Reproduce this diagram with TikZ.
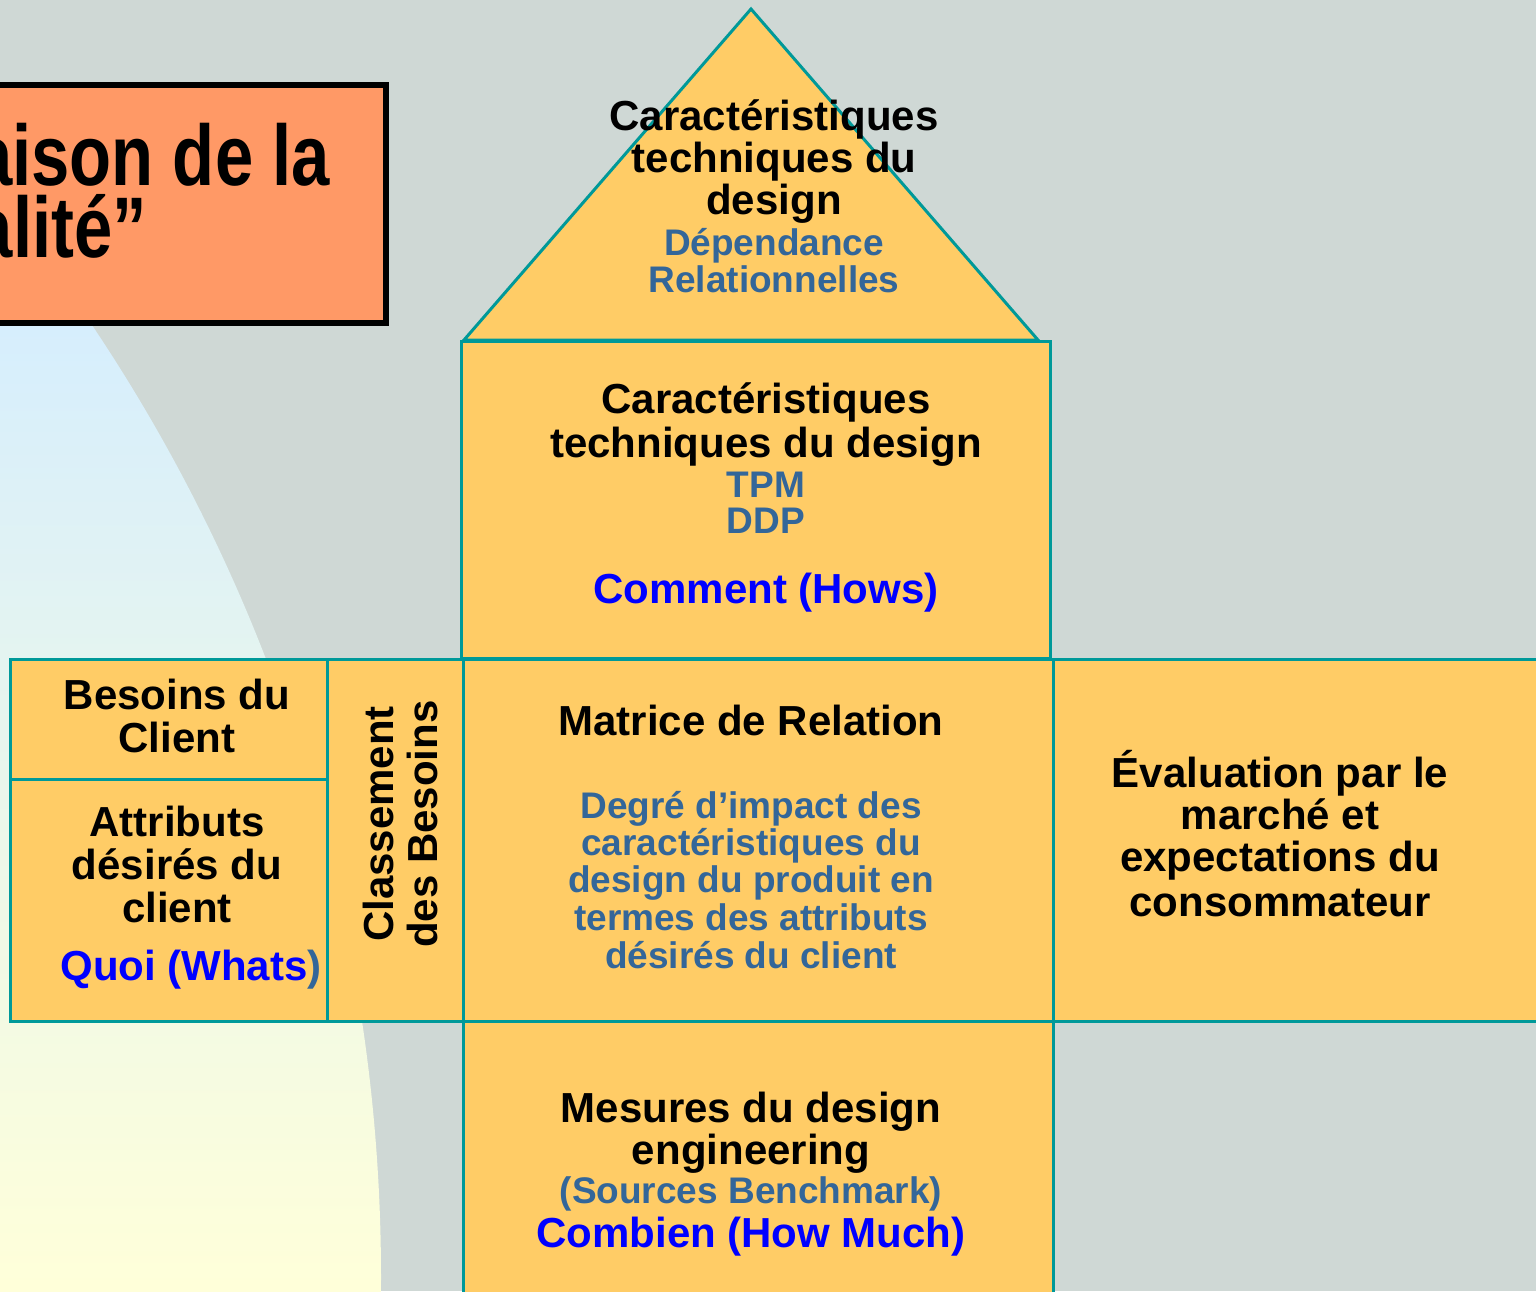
\documentclass[tikz,border=0pt]{standalone}
\usepackage{fontspec}
\setmainfont{Liberation Sans}
\usepackage{graphicx}
\definecolor{bgc}{HTML}{CFD8D5}
\definecolor{boxc}{HTML}{FFCC66}
\definecolor{tealc}{HTML}{009999}
\definecolor{salmonc}{HTML}{FF9966}
\definecolor{steelc}{HTML}{336699}
\definecolor{purec}{HTML}{0000FF}
\definecolor{skyc}{HTML}{D6EEFD}
\definecolor{creamc}{HTML}{FFFFD9}
\tikzset{
  cell/.style={fill=boxc, draw=tealc, line width=3pt},
  blk/.style={font=\fontsize{42}{44}\selectfont\bfseries, text=black, anchor=base, inner sep=0pt},
  sub/.style={font=\fontsize{37}{38}\selectfont\bfseries, text=steelc, anchor=base, inner sep=0pt},
  hl/.style={font=\fontsize{42}{44}\selectfont\bfseries, text=purec, anchor=base, inner sep=0pt},
  ttl/.style={font=\fontsize{86}{72}\selectfont\bfseries, text=black, anchor=base east, inner sep=0pt}
}
\begin{document}
\begin{tikzpicture}[x=1pt,y=-1pt]
\useasboundingbox (0,0) rectangle (1536,1291);
\clip (0,0) rectangle (1536,1291);
\fill[bgc] (0,0) rectangle (1536,1291);
% left gradient disc
\begin{scope}
  \clip (-1330,1277) circle[radius=1711];
  \shade[top color=skyc, bottom color=creamc] (-20,325) rectangle (700,1291);
\end{scope}
% title box
\draw[fill=salmonc, draw=black, line width=6.5pt] (-20,85) rectangle (386,323);
\node[ttl] (ttl) at (330,185) {\scalebox{0.8}[1]{\begin{tabular}[t]{@{}r@{}}“La maison de la\\[-12pt]qualité”\hspace*{228.75pt}\end{tabular}}};
% house shapes
\draw[cell, line join=miter] (751,9) -- (1038,340) -- (464,340) -- cycle;
\draw[cell] (461,341) rectangle (1050,658);
\draw[cell] (1053,659) rectangle (1560,1021);
\draw[cell] (463,1021) rectangle (1053,1310);
\draw[cell] (463,659) rectangle (1053,1021);
\draw[cell] (327,659) rectangle (463,1021);
\draw[cell] (10,659) rectangle (327,779);
\draw[cell] (10,779) rectangle (327,1021);
% roof texts
\node[blk] (r1) at (774,130) {Caractéristiques};
\node[blk] (r2) at (774,172) {techniques du};
\node[blk] (r3) at (774,214) {design};
\node[sub] (r4) at (774,255) {Dépendance};
\node[sub] (r5) at (774,292) {Relationnelles};
% hows
\node[blk] (h1) at (766,413) {Caractéristiques};
\node[blk] (h2) at (766,457) {techniques du design};
\node[sub] (h3) at (766,497) {TPM};
\node[sub] (h4) at (766,533) {DDP};
\node[hl]  (h5) at (766,603) {Comment (Hows)};
% left
\node[blk] (l1) at (177,709) {Besoins du};
\node[blk] (l2) at (177,752) {Client};
\node[blk] (l3) at (177,836) {Attributs};
\node[blk] (l4) at (177,879) {désirés du};
\node[blk] (l5) at (177,922) {client};
\node[hl]  (l6) at (191,980) {Quoi (Whats\textcolor{steelc}{)}};
% ranking
\node[blk, rotate=90] (c1) at (393,824) {Classement};
\node[blk, rotate=90] (c2) at (437,824) {des Besoins};
% matrix
\node[blk] (m1) at (751,735) {Matrice de Relation};
\node[sub] (m2) at (751,818) {Degré d’impact des};
\node[sub] (m3) at (751,855) {caractéristiques du};
\node[sub] (m4) at (751,892) {design du produit en};
\node[sub] (m5) at (751,930) {termes des attributs};
\node[sub] (m6) at (751,968) {désirés du client};
% right
\node[blk] (e1) at (1280,787) {Évaluation par le};
\node[blk] (e2) at (1280,829) {marché et};
\node[blk] (e3) at (1280,871) {expectations du};
\node[blk] (e4) at (1280,916) {consommateur};
% bottom
\node[blk] (b1) at (751,1122) {Mesures du design};
\node[blk] (b2) at (751,1164) {engineering};
\node[sub] (b3) at (751,1203) {(Sources Benchmark)};
\node[hl]  (b4) at (751,1247) {Combien (How Much)};
\end{tikzpicture}
\end{document}
